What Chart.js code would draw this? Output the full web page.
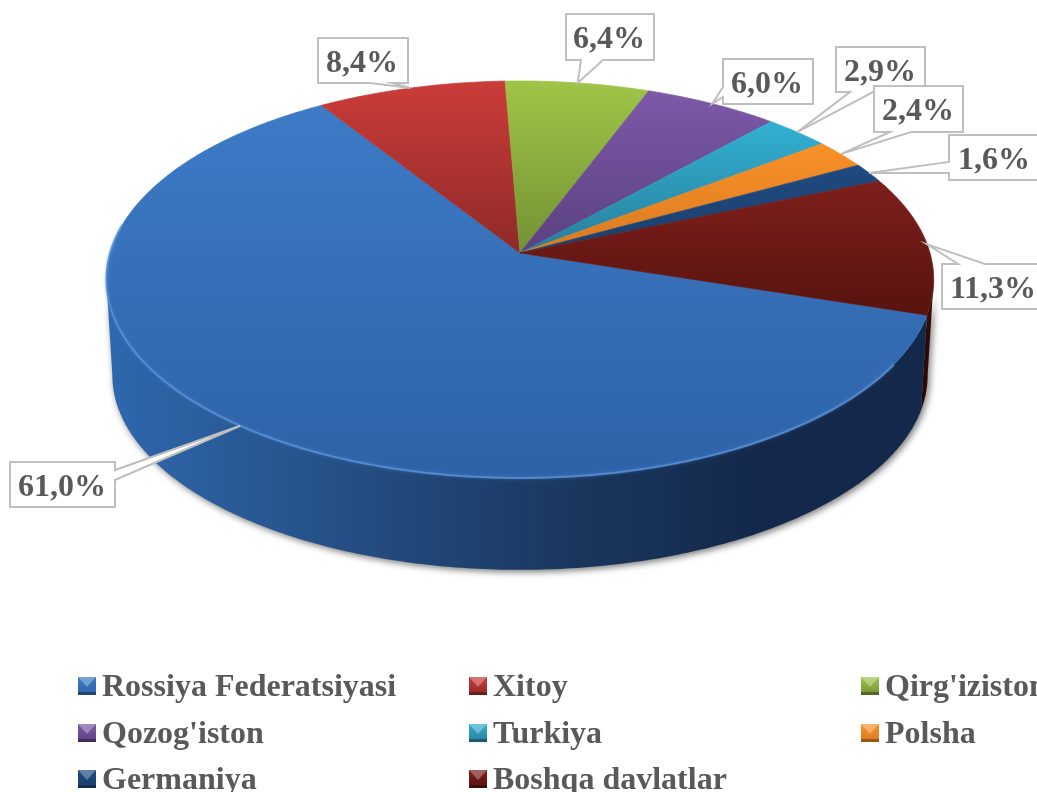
<!DOCTYPE html>
<html>
<head>
<meta charset="utf-8">
<style>
  html, body { margin: 0; background: #fff; overflow: hidden; }
  canvas { display: block; }
</style>
</head>
<body>
<canvas id="pieChart" width="1037" height="792"></canvas>
<script src="https://cdn.jsdelivr.net/npm/chart.js@4/dist/chart.umd.js"></script>
<script>
// Data
const countries = ['Rossiya Federatsiyasi', 'Xitoy', "Qirg'iziston", "Qozog'iston", 'Turkiya', 'Polsha', 'Germaniya', 'Boshqa davlatlar'];
const shares = [61.0, 8.4, 6.4, 6.0, 2.9, 2.4, 1.6, 11.3];

// Slice colours: top surface light / dark, then side wall left / middle / right
const topLight = ['#3d7bc7', '#cb3c39', '#9fc547', '#7d59a8', '#32b0d2', '#fa9128', '#1f4a80', '#7e1f1b'];
const topDark = ['#2e62a6', '#8f2a28', '#739234', '#5a4180', '#277f9b', '#d87a20', '#1b3f6c', '#58130f'];
const wallColors = [
    ['#2f68ae', '#1b3860', '#13284a'],
    ['#6b1f1d', '#6b1f1d', '#6b1f1d'],
    ['#5c7529', '#5c7529', '#5c7529'],
    ['#483366', '#483366', '#483366'],
    ['#1f6a80', '#1f6a80', '#1f6a80'],
    ['#ad6218', '#ad6218', '#ad6218'],
    ['#122a4a', '#122a4a', '#122a4a'],
    ['#3c0c09', '#3c0c09', '#3c0c09']
];

// Label box layout: x, y, w, h, the side the pointer leaves from, where it joins that side, and text centre
const labelBoxes = [
    { x: 10, y: 462, w: 105, h: 45, side: 'right', a: 470, b: 480, textX: 62 },
    { x: 318, y: 38, w: 90, h: 45, side: 'bottom', a: 370, b: 392, textX: 362 },
    { x: 566, y: 14, w: 88, h: 46, side: 'bottom', a: 581, b: 603, textX: 609 },
    { x: 723, y: 59, w: 90, h: 45, side: 'left', a: 87, b: 97, textX: 767 },
    { x: 836, y: 47, w: 89, h: 45, side: 'bottom', a: 850, b: 873, textX: 880 },
    { x: 874, y: 86, w: 89, h: 46, side: 'bottom', a: 890, b: 911, textX: 918 },
    { x: 949, y: 135, w: 92, h: 45, side: 'left', a: 162, b: 173, textX: 994 },
    { x: 942, y: 264, w: 98, h: 45, side: 'top', a: 958, b: 985, textX: 993 }
];
const labelDrawOrder = [1, 2, 3, 4, 5, 6, 7, 0];

const legendColumns = [78, 469, 861];
const legendRows = [696, 743, 789];

const textColor = '#595959';
const boxBorder = '#bfbfbf';
const serifBold = 'bold 32px "Liberation Serif", "Times New Roman", serif';

// Perspective of the tilted disc: front edge comes out bigger than the back edge
const tilt = 0.1335;
const foldAngle = Math.asin(tilt); // where the rim turns from the back to the front
function topPoint(angle) {
    const u = Math.cos(angle), v = Math.sin(angle), w = 1 - tilt * v;
    return [520 + 410 * u / w, 253 + 195 * v / w];
}
function bottomPoint(angle) {
    const u = Math.cos(angle), v = Math.sin(angle), w = 1 - tilt * v;
    return [520 + 404 * u / w, 349.4 + 191 * v / w];
}
function sampleArc(start, end, pointFn) {
    const steps = Math.max(4, Math.ceil((end - start) * 80));
    const pts = [];
    for (let i = 0; i <= steps; i++) {
        pts.push(pointFn(start + (end - start) * i / steps));
    }
    return pts;
}
function tracePoints(ctx, pts, moveFirst) {
    pts.forEach((p, i) => {
        if (i === 0 && moveFirst) ctx.moveTo(p[0], p[1]);
        else ctx.lineTo(p[0], p[1]);
    });
}

// Only the front half of the rim has a visible wall
function drawWalls(ctx, arcs) {
    for (let i = arcs.length - 1; i >= 0; i--) {
        const arc = arcs[i];
        [0, 2 * Math.PI].forEach(turn => {
            const lo = Math.max(arc.startAngle, foldAngle + turn);
            const hi = Math.min(arc.endAngle, Math.PI - foldAngle + turn);
            if (hi <= lo) return;
            const top = sampleArc(lo, hi, topPoint);
            const bottom = sampleArc(lo, hi, bottomPoint).reverse();
            const grad = ctx.createLinearGradient(106, 0, 933, 0);
            grad.addColorStop(0, wallColors[i][0]);
            grad.addColorStop(0.55, wallColors[i][1]);
            grad.addColorStop(0.8, wallColors[i][2]);
            grad.addColorStop(1, wallColors[i][2]);
            ctx.save();
            ctx.shadowColor = 'rgba(0,0,0,0.55)';
            ctx.shadowBlur = 7;
            ctx.shadowOffsetX = 2;
            ctx.shadowOffsetY = 2;
            ctx.fillStyle = grad;
            ctx.beginPath();
            tracePoints(ctx, top, true);
            tracePoints(ctx, bottom, false);
            ctx.closePath();
            ctx.fill();
            ctx.restore();
        });
    }
}

function drawTop(ctx, arcs) {
    const apex = [520, 253];
    arcs.forEach((arc, i) => {
        const pts = sampleArc(arc.startAngle, arc.endAngle, topPoint);
        const ys = pts.map(p => p[1]).concat(apex[1]);
        const grad = ctx.createLinearGradient(0, Math.min(...ys), 0, Math.max(...ys));
        grad.addColorStop(0, topLight[i]);
        grad.addColorStop(1, topDark[i]);
        ctx.fillStyle = grad;
        ctx.strokeStyle = grad;
        ctx.lineWidth = 0.7;
        ctx.beginPath();
        ctx.moveTo(apex[0], apex[1]);
        tracePoints(ctx, pts, false);
        ctx.closePath();
        ctx.fill();
        ctx.stroke();
    });

    // Lit rim along the front of the big slice
    const big = arcs[0];
    const rim = sampleArc(big.startAngle + 0.25, Math.PI + 0.15, topPoint);
    ctx.save();
    ctx.strokeStyle = 'rgba(92,150,222,0.7)';
    ctx.lineWidth = 2;
    ctx.shadowColor = 'rgba(92,150,222,0.6)';
    ctx.shadowBlur = 3;
    ctx.beginPath();
    tracePoints(ctx, rim, true);
    ctx.stroke();
    ctx.restore();
}

function drawLabel(ctx, text, box, tip) {
    const r = box.x + box.w, b = box.y + box.h;
    ctx.beginPath();
    ctx.moveTo(box.x, box.y);
    if (box.side === 'top') { ctx.lineTo(box.a, box.y); ctx.lineTo(tip[0], tip[1]); ctx.lineTo(box.b, box.y); }
    ctx.lineTo(r, box.y);
    if (box.side === 'right') { ctx.lineTo(r, box.a); ctx.lineTo(tip[0], tip[1]); ctx.lineTo(r, box.b); }
    ctx.lineTo(r, b);
    if (box.side === 'bottom') { ctx.lineTo(box.b, b); ctx.lineTo(tip[0], tip[1]); ctx.lineTo(box.a, b); }
    ctx.lineTo(box.x, b);
    if (box.side === 'left') { ctx.lineTo(box.x, box.b); ctx.lineTo(tip[0], tip[1]); ctx.lineTo(box.x, box.a); }
    ctx.closePath();
    ctx.fillStyle = '#fff';
    ctx.fill();
    ctx.strokeStyle = boxBorder;
    ctx.lineWidth = 2;
    ctx.stroke();

    ctx.fillStyle = textColor;
    ctx.font = serifBold;
    ctx.textAlign = 'center';
    ctx.textBaseline = 'alphabetic';
    ctx.fillText(text, box.textX, box.y + 34);
}

// Little bevelled square: body darkens downward, pale wedge on top
function drawLegendMarker(ctx, x, y, light, dark) {
    const s = 18;
    const body = ctx.createLinearGradient(0, y, 0, y + s);
    body.addColorStop(0, light);
    body.addColorStop(1, dark);
    ctx.fillStyle = body;
    ctx.fillRect(x, y, s, s);
    ctx.fillStyle = 'rgba(255,255,255,0.3)';
    ctx.beginPath();
    ctx.moveTo(x, y);
    ctx.lineTo(x + s, y);
    ctx.lineTo(x + s / 2, y + s * 0.55);
    ctx.closePath();
    ctx.fill();
    ctx.fillStyle = 'rgba(0,0,0,0.3)';
    ctx.fillRect(x, y + s - 3, s, 3);
}

function drawLegend(ctx) {
    ctx.font = serifBold;
    ctx.textAlign = 'left';
    ctx.textBaseline = 'alphabetic';
    countries.forEach((name, i) => {
        const x = legendColumns[i % 3];
        const y = legendRows[Math.floor(i / 3)];
        drawLegendMarker(ctx, x, y - 19, topLight[i], topDark[i]);
        ctx.fillStyle = textColor;
        ctx.fillText(name, x + 24, y);
    });
}

// Draws the slices from the angles Chart.js worked out, instead of its flat arcs
const pie3d = {
    id: 'pie3d',
    beforeDatasetsDraw(chart) {
        const ctx = chart.ctx;
        const arcs = chart.getDatasetMeta(0).data;
        drawWalls(ctx, arcs);
        drawTop(ctx, arcs);
        labelDrawOrder.forEach(i => {
            const mid = (arcs[i].startAngle + arcs[i].endAngle) / 2;
            const text = shares[i].toFixed(1).replace('.', ',') + '%';
            drawLabel(ctx, text, labelBoxes[i], topPoint(mid));
        });
        drawLegend(ctx);
        return false;
    }
};

new Chart(document.getElementById('pieChart').getContext('2d'), {
    type: 'pie',
    data: {
        labels: countries,
        datasets: [{ data: shares, backgroundColor: topLight, borderWidth: 0 }]
    },
    options: {
        responsive: false,
        animation: false,
        rotation: 107.8,
        plugins: {
            legend: { display: false },
            tooltip: { enabled: false }
        }
    },
    plugins: [pie3d]
});
</script>
</body>
</html>
